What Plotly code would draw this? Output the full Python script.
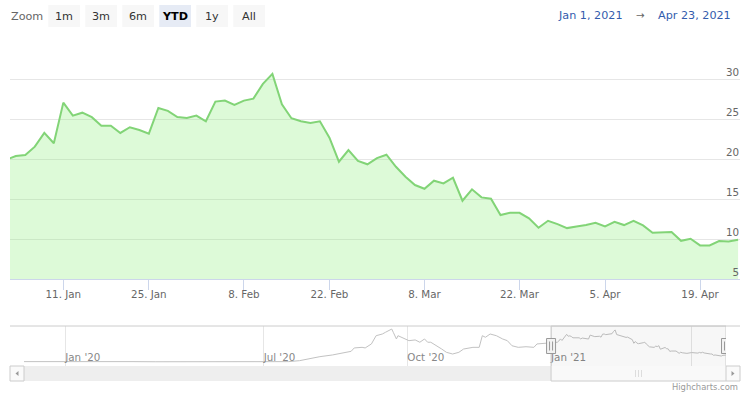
import plotly.graph_objects as go

W, H = 747, 394

# ---------------- data ----------------
dates = [
    "2020-12-31",
    "2021-01-04", "2021-01-05", "2021-01-06", "2021-01-07", "2021-01-08",
    "2021-01-11", "2021-01-12", "2021-01-13", "2021-01-14", "2021-01-15",
    "2021-01-19", "2021-01-20", "2021-01-21", "2021-01-22",
    "2021-01-25", "2021-01-26", "2021-01-27", "2021-01-28", "2021-01-29",
    "2021-02-01", "2021-02-02", "2021-02-03", "2021-02-04", "2021-02-05",
    "2021-02-08", "2021-02-09", "2021-02-10", "2021-02-11", "2021-02-12",
    "2021-02-16", "2021-02-17", "2021-02-18", "2021-02-19",
    "2021-02-22", "2021-02-23", "2021-02-24", "2021-02-25", "2021-02-26",
    "2021-03-01", "2021-03-02", "2021-03-03", "2021-03-04", "2021-03-05",
    "2021-03-08", "2021-03-09", "2021-03-10", "2021-03-11", "2021-03-12",
    "2021-03-15", "2021-03-16", "2021-03-17", "2021-03-18", "2021-03-19",
    "2021-03-22", "2021-03-23", "2021-03-24", "2021-03-25", "2021-03-26",
    "2021-03-29", "2021-03-30", "2021-03-31", "2021-04-01",
    "2021-04-05", "2021-04-06", "2021-04-07", "2021-04-08", "2021-04-09",
    "2021-04-12", "2021-04-13", "2021-04-14", "2021-04-15", "2021-04-16",
    "2021-04-19", "2021-04-20", "2021-04-21", "2021-04-22", "2021-04-23",
]
values = [
    20.0,
    20.46, 20.58, 21.63, 23.35, 22.05,
    27.15, 25.52, 25.89, 25.32, 24.26,
    24.26, 23.35, 24.06, 23.72,
    23.26, 26.48, 26.11, 25.35, 25.23,
    25.52, 24.81, 27.28, 27.40, 26.86,
    27.40, 27.65, 29.50, 30.75, 26.95,
    25.19, 24.81, 24.60, 24.81,
    22.76, 19.74, 21.21, 19.83, 19.42,
    20.20, 20.62, 19.11, 17.86, 16.82,
    16.35, 17.36, 17.03, 17.73, 14.85,
    16.28, 15.27, 15.10, 13.05, 13.34,
    13.34, 12.64, 11.46, 12.34, 11.92,
    11.42, 11.63, 11.80, 12.08,
    11.63, 12.21, 11.80, 12.34, 11.76,
    10.83, 10.92, 10.92, 9.82, 10.08,
    9.25, 9.25, 9.79, 9.75, 9.95,
]
market_holidays = ["2021-01-01", "2021-01-18", "2021-02-15", "2021-04-02"]

# earlier history shown only in the navigator
history_dates = [
    "2019-12-05", "2019-12-20", "2020-01-10", "2020-01-31", "2020-02-14", "2020-02-28",
    "2020-04-27", "2020-05-15", "2020-06-05", "2020-06-26", "2020-07-17", "2020-07-24",
    "2020-08-03", "2020-08-06", "2020-08-14", "2020-08-21", "2020-08-26", "2020-08-28",
    "2020-09-02", "2020-09-04", "2020-09-08", "2020-09-11", "2020-09-15", "2020-09-17",
    "2020-09-21", "2020-09-22", "2020-09-24", "2020-09-25", "2020-09-30", "2020-10-02",
    "2020-10-06", "2020-10-09", "2020-10-12", "2020-10-14", "2020-10-16", "2020-10-20",
    "2020-10-22", "2020-10-23", "2020-10-26", "2020-10-29", "2020-10-30", "2020-11-03",
    "2020-11-06", "2020-11-12", "2020-11-16", "2020-11-18", "2020-11-20", "2020-11-23",
    "2020-11-27", "2020-12-01", "2020-12-04", "2020-12-07", "2020-12-11", "2020-12-16",
    "2020-12-21", "2020-12-23", "2020-12-28",
]
history_values = [
    4.6, 4.7, 4.5, 4.8, 4.6, 4.5,
    4.5, 4.7, 4.6, 4.8, 4.6, 5.4,
    8.2, 8.7, 10.1, 11.5, 13.1, 15.9,
    16.4, 15.9, 19.2, 26.0, 27.4, 28.8,
    31.5, 28.8, 23.3, 26.0, 23.3, 21.9,
    22.5, 20.6, 23.3, 20.6, 20.6, 17.7,
    16.4, 15.0, 12.3, 10.9, 10.9, 12.3,
    15.0, 16.4, 16.4, 26.0, 24.7, 27.4,
    26.0, 23.3, 21.9, 17.7, 16.4, 16.9,
    16.4, 19.2, 19.7,
]
history_gap = ["2020-03-01", "2020-04-25"]

x_tick_dates = ["2021-01-11", "2021-01-25", "2021-02-08", "2021-02-22",
                "2021-03-08", "2021-03-22", "2021-04-05", "2021-04-19"]
x_tick_labels = ["11. Jan", "25. Jan", "8. Feb", "22. Feb",
                 "8. Mar", "22. Mar", "5. Apr", "19. Apr"]
y_tick_values = [5, 10, 15, 20, 25, 30, 35]
y_tick_labels = ["5", "10", "15", "20", "25", "30", ""]

nav_tick_dates = ["2020-01-01", "2020-07-01", "2020-10-01", "2021-01-01", "2021-04-01"]
nav_tick_labels = ["Jan '20", "Jul '20", "Oct '20", "Jan '21", "Apr '21"]

range_buttons = ["1m", "3m", "6m", "YTD", "1y", "All"]
selected_button = "YTD"
zoom_label = "Zoom"
from_label = "Jan 1, 2021"
to_label = "Apr 23, 2021"
credit_label = "Highcharts.com"
view_start = "2021-01-01"
view_end = "2021-04-23"

# ---------------- helpers (pixel -> paper) ----------------
def px(x):
    return x / W

def py(y):
    return 1 - y / H

FONT = "DejaVu Sans"

fig = go.Figure()

fig.add_trace(go.Scatter(
    x=dates, y=values, mode="lines",
    line=dict(color="#82d477", width=2),
    fill="tozeroy", fillcolor="rgba(144,237,125,0.3)",
    xaxis="x", yaxis="y", hoverinfo="skip", showlegend=False,
))

fig.add_trace(go.Scatter(
    x=history_dates + dates, y=history_values + values, mode="lines",
    line=dict(color="#c2c2c2", width=1),
    xaxis="x2", yaxis="y2", hoverinfo="skip", showlegend=False,
))

shapes = []
annotations = []

# navigator outline top line
shapes.append(dict(type="line", xref="paper", yref="paper",
                   x0=px(10), x1=px(740), y0=py(326), y1=py(326),
                   line=dict(color="#cccccc", width=1), layer="above"))
# scrollbar track
shapes.append(dict(type="rect", xref="paper", yref="paper",
                   x0=px(10), x1=px(740), y0=py(381), y1=py(366),
                   fillcolor="#eeeeee", line=dict(width=0), layer="above"))
# scrollbar buttons
for bx0, bx1 in ((10, 24), (726, 740)):
    shapes.append(dict(type="rect", xref="paper", yref="paper",
                       x0=px(bx0), x1=px(bx1), y0=py(381), y1=py(366),
                       fillcolor="#fafafa", line=dict(color="#cccccc", width=1), layer="above"))
# arrows
shapes.append(dict(type="path", xref="paper", yref="paper",
                   path=f"M {px(18.5)} {py(371)} L {px(15.5)} {py(373.5)} L {px(18.5)} {py(376)} Z",
                   fillcolor="#999999", line=dict(width=0), layer="above"))
shapes.append(dict(type="path", xref="paper", yref="paper",
                   path=f"M {px(731.5)} {py(371)} L {px(734.5)} {py(373.5)} L {px(731.5)} {py(376)} Z",
                   fillcolor="#999999", line=dict(width=0), layer="above"))
# mask over selected range + scrollbar thumb
shapes.append(dict(type="rect", xref="x2", yref="paper",
                   x0=view_start, x1=view_end, y0=py(366), y1=py(326),
                   fillcolor="rgba(0,0,0,0.03)", line=dict(width=0), layer="above"))
shapes.append(dict(type="rect", xref="x2", yref="paper",
                   x0=view_start, x1=view_end, y0=py(381), y1=py(366),
                   fillcolor="#f9f9f9", line=dict(width=0), layer="above"))
shapes.append(dict(type="rect", xref="x2", yref="paper",
                   x0=view_start, x1=view_end, y0=py(381), y1=py(326),
                   fillcolor="rgba(0,0,0,0)", line=dict(color="#cccccc", width=1), layer="above"))
# thumb rifles
for off in (-3, 0, 3):
    shapes.append(dict(type="line", xref="paper", yref="paper",
                       x0=px(638.5 + off), x1=px(638.5 + off), y0=py(370), y1=py(377),
                       line=dict(color="#dddddd", width=1), layer="above"))
# handles
for hx in (view_start, view_end):
    shapes.append(dict(type="rect", xref="x2", yref="paper", xsizemode="pixel", xanchor=hx,
                       x0=-4.5, x1=4.5, y0=py(353.5), y1=py(338.5),
                       fillcolor="#f2f2f2", line=dict(color="#999999", width=1), layer="above"))
    for off in (-1.5, 1.5):
        shapes.append(dict(type="line", xref="x2", yref="paper", xsizemode="pixel", xanchor=hx,
                           x0=off, x1=off, y0=py(350.5), y1=py(341.5),
                           line=dict(color="#999999", width=1), layer="above"))

# range selector buttons
for k, lab in enumerate(range_buttons):
    x0 = 48.3 + 37 * k
    sel = lab == selected_button
    shapes.append(dict(type="rect", xref="paper", yref="paper",
                       x0=px(x0), x1=px(x0 + 31.7), y0=py(27), y1=py(5),
                       fillcolor="#e6ebf5" if sel else "#f7f7f7", line=dict(width=0)))
    annotations.append(dict(text=lab, xref="paper", yref="paper",
                            x=px(x0 + 15.85), y=py(16), xanchor="center", yanchor="middle",
                            showarrow=False,
                            font=dict(family=FONT, size=11.2, color="#000000" if sel else "#333333",
                                      weight="bold" if sel else "normal")))
annotations.append(dict(text=zoom_label, xref="paper", yref="paper", x=px(9), y=py(16.5),
                        xanchor="left", yanchor="middle", showarrow=False,
                        font=dict(family=FONT, size=11.2, color="#666666")))
annotations.append(dict(text=from_label, xref="paper", yref="paper", x=px(625), y=py(15.5),
                        xanchor="right", yanchor="middle", showarrow=False,
                        font=dict(family=FONT, size=11.2, color="#335cad")))
annotations.append(dict(text="\u2192", xref="paper", yref="paper", x=px(640.5), y=py(15.5),
                        xanchor="center", yanchor="middle", showarrow=False,
                        font=dict(family=FONT, size=10.3, color="#666666")))
annotations.append(dict(text=to_label, xref="paper", yref="paper", x=px(732.5), y=py(15.5),
                        xanchor="right", yanchor="middle", showarrow=False,
                        font=dict(family=FONT, size=11.2, color="#335cad")))
annotations.append(dict(text=credit_label, xref="paper", yref="paper", x=px(739.5), y=py(387),
                        xanchor="right", yanchor="middle", showarrow=False,
                        font=dict(family=FONT, size=8.4, color="#999999")))

fig.update_layout(
    width=W, height=H,
    margin=dict(l=0, r=0, t=0, b=0),
    paper_bgcolor="#ffffff", plot_bgcolor="#ffffff",
    font=dict(family=FONT, size=10.3, color="#666666"),
    showlegend=False,
    hovermode=False,
    shapes=shapes,
    annotations=annotations,
    xaxis=dict(
        domain=[px(10), px(740)], anchor="y", type="date",
        range=["2020-12-31 09:20", "2021-04-23 04:50"],
        rangebreaks=[dict(bounds=["sat", "mon"]), dict(values=market_holidays)],
        tickmode="array", tickvals=x_tick_dates, ticktext=x_tick_labels,
        ticks="outside", ticklen=10, tickwidth=1, tickcolor="#ccd6eb",
        ticklabelstandoff=-5,
        showline=True, linecolor="#ccd6eb", linewidth=1,
        showgrid=False, zeroline=False, fixedrange=True,
        tickfont=dict(family=FONT, size=10.3, color="#666666"),
    ),
    yaxis=dict(
        domain=[py(279.3), py(40)], anchor="x", side="right",
        range=[5, 35],
        tickmode="array", tickvals=y_tick_values, ticktext=y_tick_labels,
        ticklabelposition="inside", ticklabelshift=-7, ticklabelstandoff=-2, ticks="",
        showgrid=True, gridcolor="#e6e6e6", gridwidth=1,
        showline=False, zeroline=False, fixedrange=True,
        tickfont=dict(family=FONT, size=10.3, color="#666666"),
    ),
    xaxis2=dict(
        domain=[px(24), px(726)], anchor="y2", type="date",
        range=["2019-12-05 14:00", "2021-04-23"],
        rangebreaks=[dict(bounds=history_gap)],
        tickmode="array", tickvals=nav_tick_dates, ticktext=nav_tick_labels,
        ticklabelposition="inside right", ticks="", ticklabelstandoff=-3,
        showgrid=True, gridcolor="#e6e6e6", gridwidth=1,
        showline=False, zeroline=False, fixedrange=True,
        tickfont=dict(family=FONT, size=10.3, color="#888888"),
    ),
    yaxis2=dict(
        domain=[py(366), py(326)], anchor="x2", range=[1, 34],
        showgrid=False, showticklabels=False, zeroline=False, showline=False,
        ticks="", fixedrange=True,
    ),
)

fig.write_html("out.html", config={"displayModeBar": False},
               post_script="document.body.style.margin='0';")
